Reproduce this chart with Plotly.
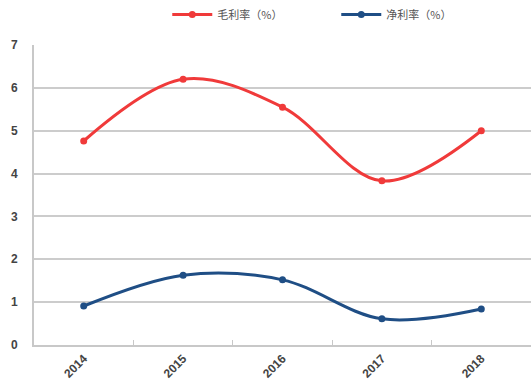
import plotly.graph_objects as go

years = ["2014", "2015", "2016", "2017", "2018"]
gross = [4.76, 6.2, 5.55, 3.83, 5.0]
net = [0.91, 1.63, 1.52, 0.61, 0.84]
names = ["毛利率（%）", "净利率（%）"]
colors = ["#f03a3a", "#1f4e85"]

fig = go.Figure()
for vals, name, c in zip([gross, net], names, colors):
    fig.add_trace(go.Scatter(
        x=years, y=vals, name=name, mode="lines+markers",
        line=dict(color=c, width=3, shape="spline", smoothing=1.0),
        marker=dict(color=c, size=7),
    ))

tf = dict(family="Liberation Sans, Arial", size=12, color="#444444", weight="bold")
fig.update_layout(
    width=531, height=392,
    margin=dict(l=34, r=0, t=45, b=47),
    paper_bgcolor="white", plot_bgcolor="white",
    font=dict(family="Noto Sans CJK SC, Liberation Sans, Arial", color="#444444", size=11),
    showlegend=True,
    legend=dict(orientation="h", xref="container", x=0.315, xanchor="left",
                yref="container", y=1.0, yanchor="top",
                font=dict(size=11, color="#555555"),
                itemwidth=40, entrywidth=114, entrywidthmode="pixels"),
    xaxis=dict(
        type="category", range=[-0.5, 4.5], showgrid=False,
        showline=True, linecolor="#c8c8c8", linewidth=2,
        ticks="inside", ticklen=5, tickcolor="#c8c8c8", tickson="boundaries",
        tickangle=-45, tickfont=tf,
    ),
    yaxis=dict(
        range=[0, 7], dtick=1, showgrid=True, gridcolor="#cccccc", gridwidth=1.5,
        showline=True, linecolor="#c8c8c8", linewidth=2, zeroline=False,
        ticks="", ticklabelstandoff=12, tickfont=tf,
    ),
)

fig.write_html("out.html")
